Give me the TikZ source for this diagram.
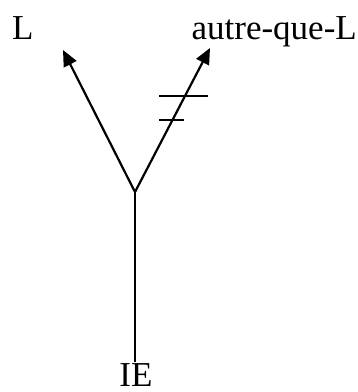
\documentclass[tikz,border=0pt]{standalone}
\usepackage{fontspec}
\setmainfont{Liberation Serif}
\usetikzlibrary{arrows.meta}
\begin{document}
\begin{tikzpicture}[x=1pt,y=-1pt,
  lbl/.style={inner sep=0pt,font=\fontsize{35}{40}\selectfont},
  conn/.style={line width=2.2pt},
  arr/.style={conn,-{Triangle[length=16pt,width=14pt]}},
  tick/.style={line width=1.6pt}]
\useasboundingbox (0,0) rectangle (358,392);
\node[lbl,anchor=base west] (L) at (12,39) {L};
\node[lbl,anchor=base east] (A) at (357,39) {autre-que-L};
\node[lbl,anchor=base] (IE) at (136,386) {IE};
\coordinate (J) at (135,192);
\coordinate (B) at (135,362);
\coordinate (TL) at (63,50);
\coordinate (TR) at (210,48);
\coordinate (T1a) at (159,96);
\coordinate (T1b) at (208,96);
\coordinate (T2a) at (159,120);
\coordinate (T2b) at (184,120);
\draw[conn] (B) -- (J);
\draw[arr] (J) -- (TL);
\draw[arr] (J) -- (TR);
\draw[tick] (T1a) -- (T1b);
\draw[tick] (T2a) -- (T2b);
\end{tikzpicture}
\end{document}
